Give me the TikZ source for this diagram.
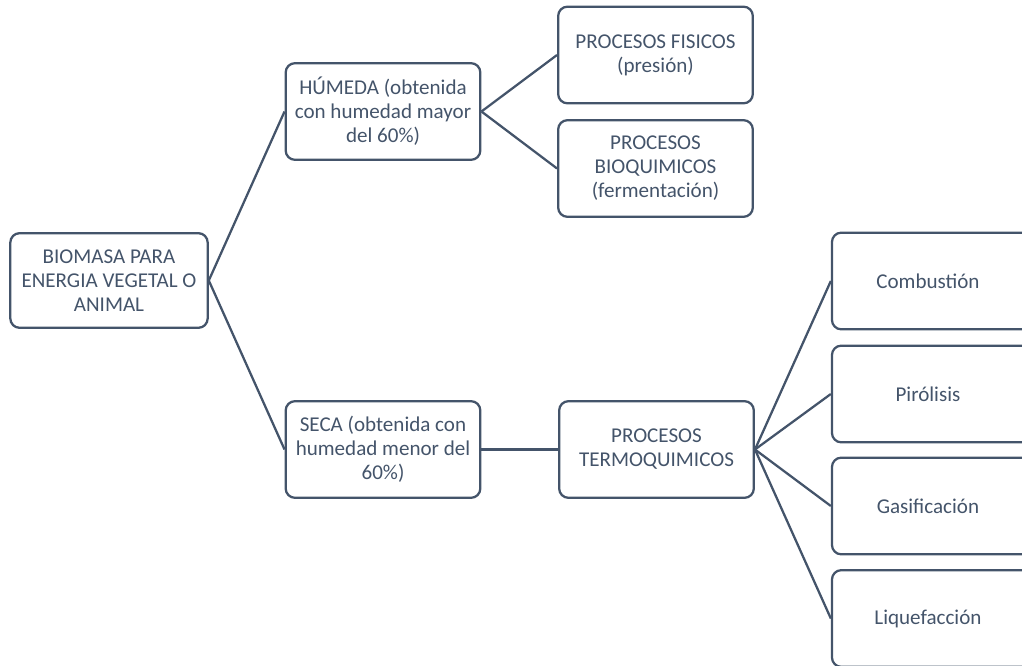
\documentclass[tikz,border=0pt]{standalone}
\usepackage{fontspec}
\setmainfont{Carlito}
\definecolor{slate}{HTML}{44546A}
\begin{document}
\begin{tikzpicture}[x=0.75pt,y=-0.75pt,
    box/.style={draw=slate, line width=1.7pt, rounded corners=7pt,
      minimum width=146pt, minimum height=72.5pt, inner sep=2pt,
      align=center, text=slate, font=\fontsize{15.8}{18}\selectfont},
    link/.style={draw=slate, line width=1.7pt}]
        \useasboundingbox (0,0) rectangle (1022,666);

        %root
        \node[box, minimum width=148pt, minimum height=71pt] (biomasa) at (109,280.5) {BIOMASA PARA\\ENERGIA VEGETAL O\\ANIMAL};

        %level 1
        \node[box] (humeda) at (383,111.5) {HÚMEDA (obtenida\\con humedad mayor\\del 60\%)};
        \node[box] (seca) at (383,449.5) {SECA (obtenida con\\humedad menor del\\60\%)};

        %level 2
        \node[box] (fisicos) at (655.5,55) {PROCESOS FISICOS\\(presión)};
        \node[box] (bioquim) at (655.5,168.5) {PROCESOS\\BIOQUIMICOS\\(fermentación)};
        \node[box] (termo) at (656.5,449.5) {PROCESOS\\TERMOQUIMICOS};

        %level 3 (cut off at the right edge)
        \node[box, minimum width=170pt] (combust) at (945.3,281) {\hspace*{-26pt}Combustión};
        \node[box, minimum width=170pt] (pirol) at (945.3,394) {\hspace*{-26pt}Pirólisis};
        \node[box, minimum width=170pt] (gasif) at (945.3,506) {\hspace*{-26pt}Gasificación};
        \node[box, minimum width=170pt] (liquef) at (945.3,618.5) {\hspace*{-26pt}Liquefacción};

        %links
        \draw[link] (biomasa.east) -- (humeda.west);
        \draw[link] (biomasa.east) -- (seca.west);
        \draw[link] (humeda.east) -- (fisicos.west);
        \draw[link] (humeda.east) -- (bioquim.west);
        \draw[link] (seca.east) -- (termo.west);
        \draw[link] (termo.east) -- (combust.west);
        \draw[link] (termo.east) -- (pirol.west);
        \draw[link] (termo.east) -- (gasif.west);
        \draw[link] (termo.east) -- (liquef.west);
\end{tikzpicture}
\end{document}
